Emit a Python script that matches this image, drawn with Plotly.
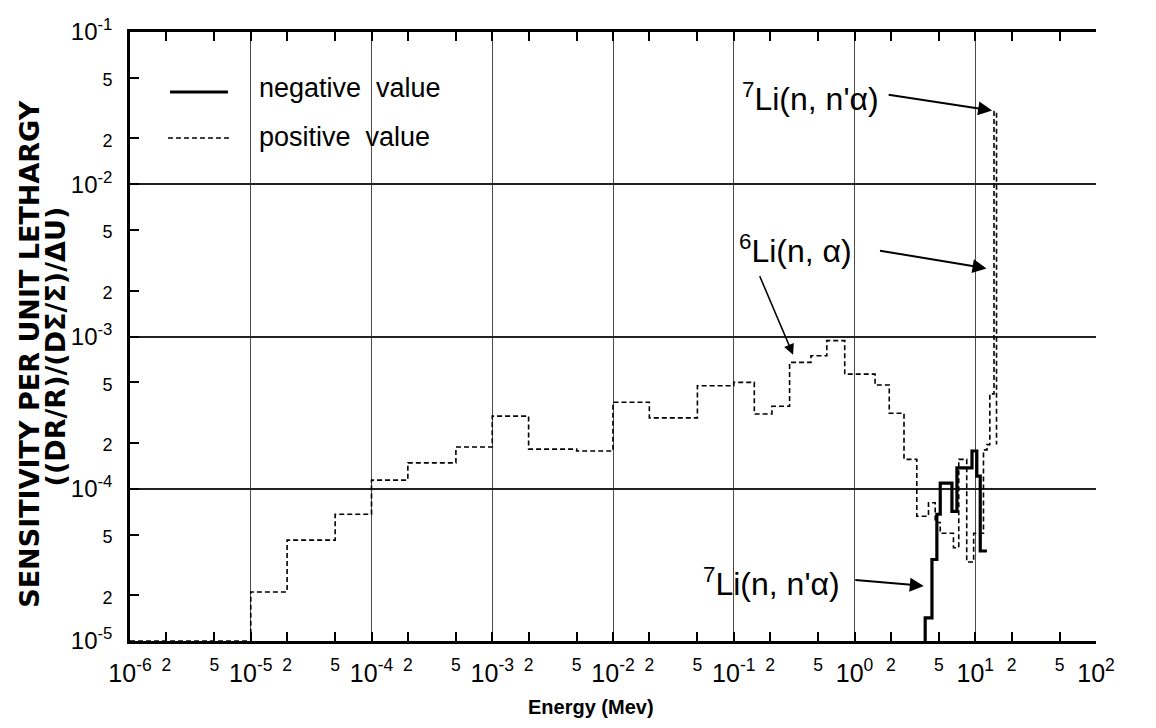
import plotly.graph_objects as go
import math

# ---------------- data ----------------
# positive sensitivity (dashed histogram): bin edges (MeV) and values
pos_edges = [1e-6, 1e-5, 2e-5, 5e-5, 1e-4, 2e-4, 5e-4, 1e-3, 2e-3, 5e-3,
             1e-2, 2e-2, 5e-2, 1e-1, 0.148, 0.207, 0.29, 0.436, 0.59, 0.83,
             1.48, 1.94, 2.57, 3.28, 4.1, 4.66, 5.13, 6.6, 7.3, 8.5,
             9.7, 11.7, 12.5, 13.2, 14.3, 15.0]
pos_vals = [1e-5, 2.1e-5, 4.6e-5, 6.8e-5, 1.14e-4, 1.48e-4, 1.88e-4, 3.0e-4, 1.82e-4, 1.77e-4,
            3.7e-4, 2.92e-4, 4.75e-4, 5.0e-4, 3.1e-4, 3.48e-4, 6.76e-4, 7.47e-4, 9.4e-4, 5.66e-4,
            4.8e-4, 3.13e-4, 1.56e-4, 6.6e-5, 8.1e-5, 6.0e-5, 5.1e-5, 4.1e-5, 1.56e-4, 3.3e-5,
            5.1e-5, 1.8e-4, 1.95e-4, 4.2e-4, 3.0e-2]
pos_end_val = 1.95e-4

# negative sensitivity (solid histogram)
neg_edges = [3.85, 4.38, 4.81, 5.13, 6.41, 7.05, 9.4, 10.3, 11.0, 12.5]
neg_vals = [1.42e-5, 3.43e-5, 6.8e-5, 1.09e-4, 7.1e-5, 1.37e-4, 1.77e-4, 1.21e-4, 3.9e-5]
floor_val = 1e-5

# axis ticks
x_decades = [1e-6, 1e-5, 1e-4, 1e-3, 1e-2, 1e-1, 1e0, 1e1, 1e2]
x_dec_text = ["10<sup>-6</sup>", "10<sup>-5</sup>", "10<sup>-4</sup>", "10<sup>-3</sup>",
              "10<sup>-2</sup>", "10<sup>-1</sup>", "10<sup>0</sup>", "10<sup>1</sup>", "10<sup>2</sup>"]
y_decades = [1e-5, 1e-4, 1e-3, 1e-2, 1e-1]
y_dec_text = ["10<sup>-5</sup>", "10<sup>-4</sup>", "10<sup>-3</sup>", "10<sup>-2</sup>", "10<sup>-1</sup>"]
minor_mult = [2, 5]

# ---------------- build ticks ----------------
xt_vals, xt_text = [], []
for i, d in enumerate(x_decades):
    xt_vals.append(d); xt_text.append(x_dec_text[i])
    if i < len(x_decades) - 1:
        for m in minor_mult:
            xt_vals.append(d * m); xt_text.append("<sup>%d</sup>" % m)
yt_vals, yt_text = [], []
for i, d in enumerate(y_decades):
    yt_vals.append(d); yt_text.append(y_dec_text[i])
    if i < len(y_decades) - 1:
        for m in minor_mult:
            yt_vals.append(d * m); yt_text.append("<span style='font-size:18px'>%d</span>" % m)

# ---------------- traces ----------------
px_ = pos_edges + [pos_edges[-1]]
py_ = pos_vals + [pos_vals[-1], pos_end_val]
nx_ = [neg_edges[0]] + neg_edges
ny_ = [floor_val] + neg_vals + [neg_vals[-1]]

fig = go.Figure()
fig.add_trace(go.Scatter(x=px_, y=py_, mode="lines", line_shape="hv",
                         line=dict(color="black", width=1.6, dash="5px,3px"),
                         name="positive value"))
fig.add_trace(go.Scatter(x=nx_, y=ny_, mode="lines", line_shape="hv",
                         line=dict(color="black", width=3.2),
                         name="negative value"))
# empty trace for the grid-only overlay axes
fig.add_trace(go.Scatter(x=[], y=[], xaxis="x2", yaxis="y3", showlegend=False))

FONT = "Liberation Sans, Arial, sans-serif"
TFONT = "DejaVu Sans, Liberation Sans, sans-serif"
axis_common = dict(type="log", zeroline=False, automargin=False)

fig.update_layout(
    width=1156, height=728,
    margin=dict(l=130, r=60, t=32, b=87),
    paper_bgcolor="white", plot_bgcolor="white",
    showlegend=False,
    font=dict(family=FONT, color="black"),
    xaxis=dict(**axis_common, range=[-6, 2], tickmode="array", tickvals=xt_vals, ticktext=xt_text,
               ticks="inside", ticklen=9, tickwidth=2, tickcolor="black",
               showline=True, linewidth=2.5, linecolor="black", mirror="ticks",
               showgrid=False, tickfont=dict(size=25, family=FONT), ticklabelstandoff=8),
    yaxis=dict(**axis_common, range=[-5, -1], tickmode="array", tickvals=yt_vals, ticktext=yt_text,
               ticks="inside", ticklen=9, tickwidth=2, tickcolor="black",
               showline=True, linewidth=2.5, linecolor="black",
               showgrid=False, tickfont=dict(size=24, family=FONT), ticklabelstandoff=10),
    yaxis2=dict(**axis_common, range=[-5, -1], overlaying="y", side="right", anchor="x",
                tickmode="array", tickvals=yt_vals, ticktext=yt_text,
                ticks="inside", ticklen=9, tickwidth=2, tickcolor="black",
                showline=True, linewidth=2.5, linecolor="black",
                showgrid=False, tickfont=dict(size=24, family=FONT), ticklabelstandoff=12),
    xaxis2=dict(**axis_common, range=[-6, 2], overlaying="x", anchor="y3",
                tickmode="array", tickvals=x_decades, showticklabels=False, ticks="",
                showgrid=True, gridcolor="#4a4a4a", gridwidth=1.2, showline=False),
    yaxis3=dict(**axis_common, range=[-5, -1], overlaying="y", anchor="x2",
                tickmode="array", tickvals=y_decades, showticklabels=False, ticks="",
                showgrid=True, gridcolor="#222222", gridwidth=1.5, showline=False),
)

L = math.log10
ann_font = dict(family=FONT, size=32, color="black")
annotations = [
    # reaction labels
    dict(text="<sup>7</sup>Li(n, n'α)", xref="paper", yref="paper", x=0.704, y=0.893,
         showarrow=False, font=ann_font, xanchor="center", yanchor="middle"),
    dict(text="<sup>6</sup>Li(n, α)", xref="paper", yref="paper", x=0.689, y=0.643,
         showarrow=False, font=ann_font, xanchor="center", yanchor="middle"),
    dict(text="<sup>7</sup>Li(n, n'α)", xref="paper", yref="paper", x=0.664, y=0.097,
         showarrow=False, font=ann_font, xanchor="center", yanchor="middle"),
    # arrows
    dict(x=L(13.8), y=L(3.05e-2), xref="x", yref="y", text="", showarrow=True,
         ax=-105, ay=-16, arrowhead=2, arrowsize=1.4, arrowwidth=2, arrowcolor="black"),
    dict(x=L(12.4), y=L(2.8e-3), xref="x", yref="y", text="", showarrow=True,
         ax=-108, ay=-18, arrowhead=2, arrowsize=1.4, arrowwidth=2, arrowcolor="black"),
    dict(x=L(0.31), y=L(7.6e-4), xref="x", yref="y", text="", showarrow=True,
         ax=-34, ay=-80, arrowhead=2, arrowsize=1.4, arrowwidth=1.5, arrowcolor="black"),
    dict(x=L(3.75), y=L(2.3e-5), xref="x", yref="y", text="", showarrow=True,
         ax=-70, ay=-6, arrowhead=2, arrowsize=1.4, arrowwidth=2, arrowcolor="black"),
    # legend text
    dict(text="negative  value", xref="paper", yref="paper", x=0.1315, y=0.908,
         showarrow=False, font=dict(family=FONT, size=27), xanchor="left", yanchor="middle"),
    dict(text="positive  value", xref="paper", yref="paper", x=0.1315, y=0.828,
         showarrow=False, font=dict(family=FONT, size=27), xanchor="left", yanchor="middle"),
    # axis titles
    dict(text="<b>Energy (Mev)</b>", xref="paper", yref="paper", x=0.4772, y=-0.108,
         showarrow=False, font=dict(family=FONT, size=20), xanchor="center", yanchor="middle"),
    dict(text="<b>SENSITIVITY PER UNIT LETHARGY</b>", xref="paper", yref="paper", x=-0.1035, y=0.47,
         showarrow=False, textangle=-90, font=dict(family=TFONT, size=27), xanchor="center", yanchor="middle"),
    dict(text="<b>((DR/R)/(DΣ/Σ)/ΔU)</b>", xref="paper", yref="paper", x=-0.0775, y=0.484,
         showarrow=False, textangle=-90, font=dict(family=TFONT, size=27), xanchor="center", yanchor="middle"),
]
fig.update_layout(annotations=annotations)

# legend sample lines
fig.add_shape(type="line", xref="paper", yref="paper", x0=0.0414, x1=0.1014, y0=0.9015, y1=0.9015,
              line=dict(color="black", width=3.2))
fig.add_shape(type="line", xref="paper", yref="paper", x0=0.0393, x1=0.1025, y0=0.826, y1=0.826,
              line=dict(color="black", width=1.6, dash="5px,3px"))

fig.write_html("out.html")
